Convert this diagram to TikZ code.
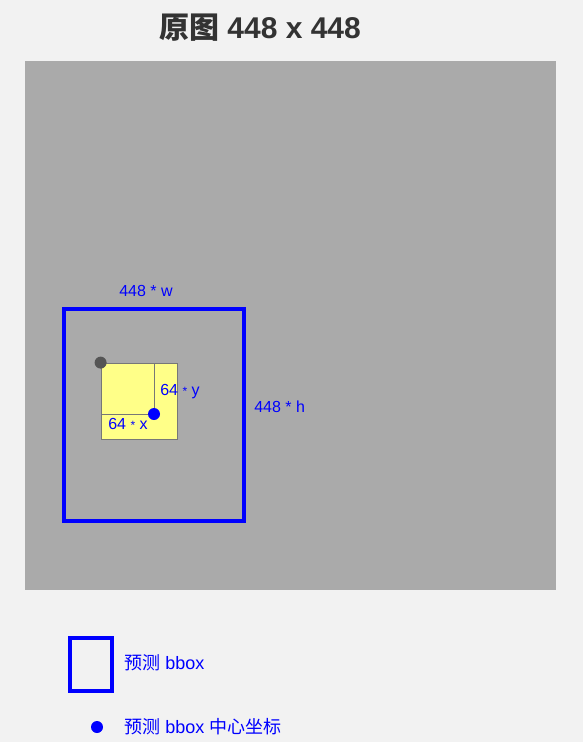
\documentclass[tikz,border=0pt]{standalone}
\usepackage{fontspec}
\setmainfont{Liberation Sans}
\newfontfamily\cjk{Noto Sans CJK SC}
\definecolor{pagebg}{RGB}{242,242,242}
\definecolor{imgbg}{RGB}{170,170,170}
\definecolor{titlec}{RGB}{51,51,51}
\definecolor{cellline}{RGB}{119,119,119}
\definecolor{cellfill}{RGB}{255,255,136}
\definecolor{dotgray}{RGB}{85,85,85}
\begin{document}
\begin{tikzpicture}[x=0.75pt,y=-0.75pt,
  lbl/.style={text=blue,font=\fontsize{12}{14}\selectfont,inner sep=0pt},
  leglbl/.style={text=blue,font=\fontsize{13.5}{16}\selectfont,inner sep=0pt},
  bboxline/.style={draw=blue,line width=3pt},
  dotc/.style={circle,fill=#1,inner sep=0pt,minimum size=9pt}]
\fill[pagebg] (0,0) rectangle (583,742);
\useasboundingbox (0,0) rectangle (583,742);
\node[font=\fontsize{22.5}{26}\selectfont\bfseries,text=titlec,inner sep=0pt] (title) at (260,28) {{\cjk\bfseries 原图} 448 x 448};
\fill[imgbg] (25,61) rectangle (556,590);
\node[bboxline,minimum width=135pt,minimum height=159pt,inner sep=0pt] (big) at (153.5,414.5) {};
\node[lbl] (wl) at (146,291) {448 * w};
\node[lbl,anchor=west] (hl) at (254,407) {448 * h};
\node[draw=cellline,fill=cellfill,minimum width=57pt,minimum height=57pt,inner sep=0pt,line width=0.6pt] (cell) at (139,401) {};
\coordinate (c) at (154,414);
\draw[cellline,line width=0.6pt] (c) -- (c |- cell.north);
\draw[cellline,line width=0.6pt] (c) -- (c -| cell.west);
\node[dotc=dotgray] (gdot) at (cell.north west) {};
\node[dotc=blue] (bdot) at (c) {};
\node[lbl,anchor=west] (yl) at (160,392) {64 {\fontsize{9}{10}\selectfont *} y};
\node[lbl,anchor=west] (xl) at (108,424) {64 {\fontsize{9}{10}\selectfont *} x};
\node[bboxline,minimum width=31.5pt,minimum height=39.75pt,inner sep=0pt] (leg1) at (90.5,664) {};
\node[leglbl,anchor=west] (leg1t) at (124,663) {{\cjk 预测} bbox};
\node[dotc=blue] (leg2) at (97,727) {};
\node[leglbl,anchor=west] (leg2t) at (124,727) {{\cjk 预测} bbox {\cjk 中心坐标}};
\end{tikzpicture}
\end{document}
